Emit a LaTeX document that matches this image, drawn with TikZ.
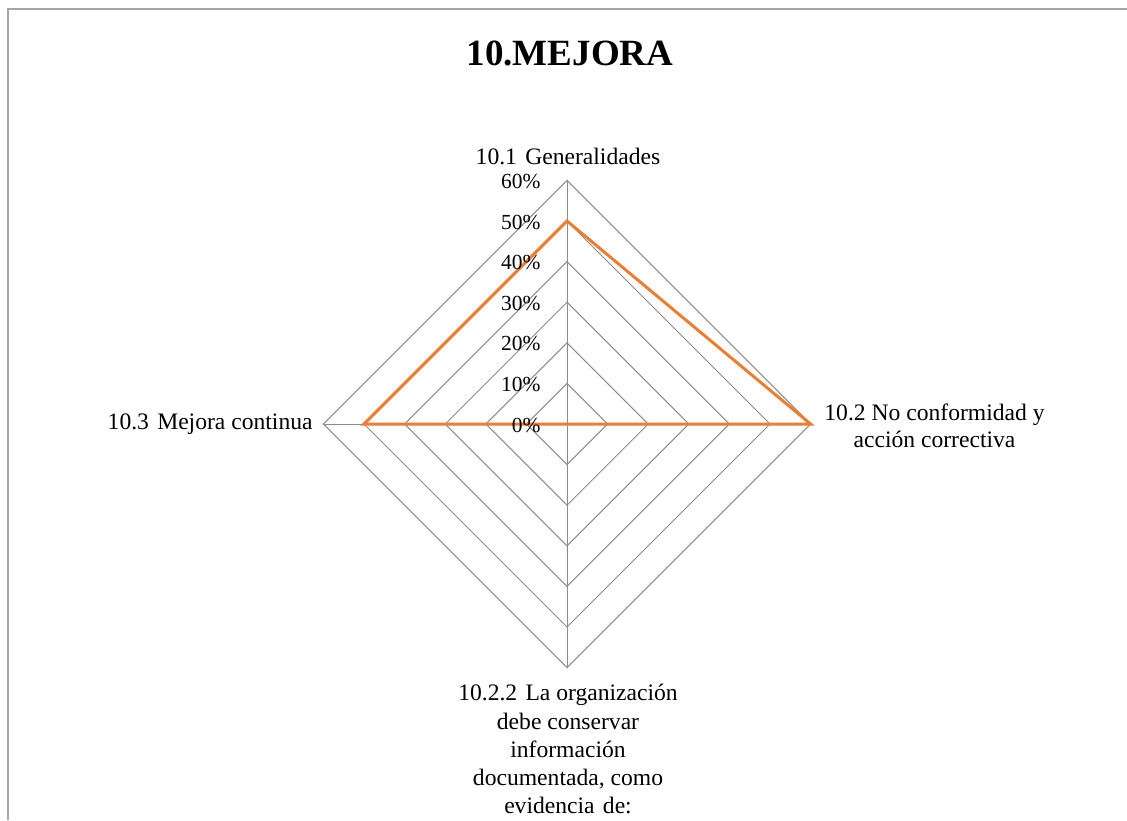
\documentclass[tikz,border=0pt]{standalone}
\usepackage{fontspec}
\setmainfont{Liberation Serif}
\usepackage{tikz}

\definecolor{radarorange}{HTML}{ED7D31}
\definecolor{gridgray}{HTML}{8C8C8C}
\definecolor{framegray}{HTML}{A6A6A6}

\tikzset{
  gridline/.style={draw=gridgray, line width=0.5pt},
  serie/.style={draw=radarorange, line width=1.5pt, line join=miter},
  pct/.style={font=\fontsize{10.75}{13.5}\selectfont, inner sep=0pt, anchor=east},
  axlabel/.style={font=\fontsize{11.8}{13.6}\selectfont, inner sep=0pt, align=center}
}

\begin{document}
\begin{tikzpicture}[x=0.5pt, y=-0.5pt]
        \useasboundingbox (0, 0) rectangle (1127, 820);
        \draw[draw=framegray, line width=1pt] (8, 820) -- (8, 9) -- (1127, 9);
        \node [font=\fontsize{18.5}{22}\selectfont\bfseries, inner sep=0pt] (titulo) at (570, 53) {10.MEJORA};

        % rejilla
        \coordinate (c) at (567, 424);
        \foreach \k in {1,...,6}
          \draw[gridline] (567, {424-40.6*\k}) -- ({567+40.6*\k}, 424) -- (567, {424+40.6*\k}) -- ({567-40.6*\k}, 424) -- cycle;
        \coordinate (g1) at (567, 180.4);
        \coordinate (g2) at (810.6, 424);
        \coordinate (g3) at (567, 667.6);
        \coordinate (g4) at (323.4, 424);
        \draw[gridline] (c) -- (g1);
        \draw[gridline] (c) -- (g2);
        \draw[gridline] (c) -- (g3);
        \draw[gridline] (c) -- (g4);

        % serie
        \coordinate (s1) at (567, 221);
        \coordinate (s4) at (364, 424);
        \draw[serie] (s1) -- (g2) -- (c) -- (s4) -- cycle;

        \foreach \k/\v in {0/0, 1/10, 2/20, 3/30, 4/40, 5/50, 6/60}
          \node[pct] (p\k) at (541, {425-40.6*\k}) {\v\%};

        \node [axlabel, anchor=south] (gen) at (568, 165) {10.1\hspace{0.1em} Generalidades};
        \node [axlabel, anchor=west] (noconf) at (824, 426) {10.2 No conformidad y\\acción correctiva};
        \node [axlabel, font=\fontsize{11.8}{14.1}\selectfont, anchor=north] (evid) at (568, 684) {10.2.2\hspace{0.1em} La organización\\debe conservar\\información\\documentada, como\\evidencia\hspace{0.1em} de:};
        \node [axlabel, anchor=east] (mejora) at (313, 424) {10.3\hspace{0.1em} Mejora continua};
      \end{tikzpicture}
\end{document}
